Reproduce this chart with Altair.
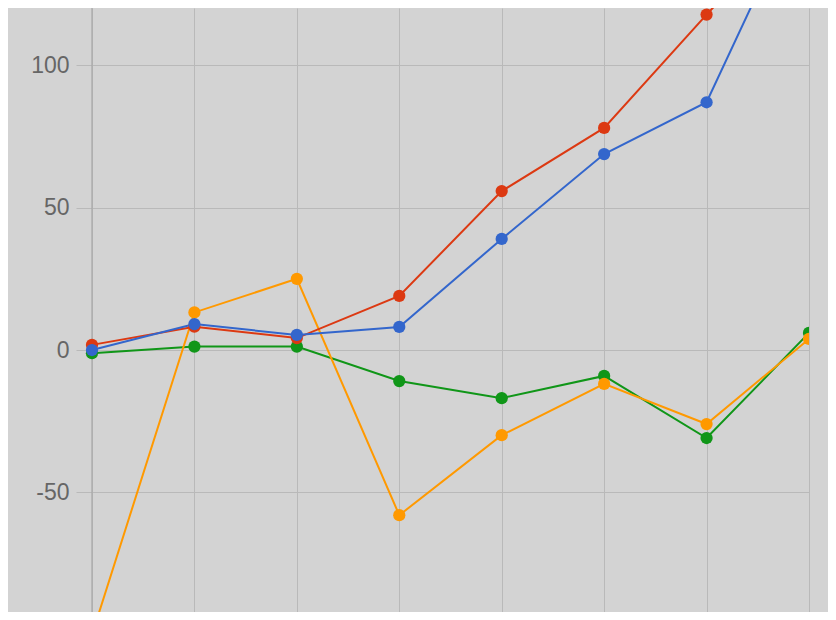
import altair as alt
import pandas as pd

# ---- data ----
x_index = [0, 1, 2, 3, 4, 5, 6, 7]
series_names = ["Series D", "Series C", "Series B", "Series A"]  # drawing order (bottom -> top)
series_colors = ["#109618", "#ff9900", "#dc3912", "#3366cc"]
green_vals = [-1.1, 1.2, 1.2, -10.9, -16.9, -9.1, -30.9, 6.0]
orange_vals = [-100.0, 13.2, 25.0, -58.0, -29.9, -11.9, -26.0, 3.9]
red_vals = [1.8, 8.2, 4.2, 19.0, 55.8, 78.0, 117.8, 156.0]
blue_vals = [0.0, 9.1, 5.3, 8.1, 39.0, 68.8, 87.0, 164.0]
y_ticks = [-50, 0, 50, 100]

rows = []
for order, (name, vals) in enumerate(zip(series_names, [green_vals, orange_vals, red_vals, blue_vals])):
    for xi, v in zip(x_index, vals):
        rows.append({"x": xi, "value": v, "series": name, "order": order})
df = pd.DataFrame(rows)

x_scale = alt.Scale(domain=[-0.156, 7], nice=False, zero=False)
y_scale = alt.Scale(domain=[-92.0, 120.1], nice=False, zero=False)
color_scale = alt.Scale(domain=series_names, range=series_colors)

x_enc = alt.X("x:Q", scale=x_scale,
              axis=alt.Axis(values=x_index, labels=False, ticks=False, domain=False,
                            grid=True, gridColor="#b9b9b9", gridWidth=1, title=None))
y_enc = alt.Y("value:Q", scale=y_scale,
              axis=alt.Axis(values=y_ticks, ticks=False, domain=False, grid=True,
                            gridColor="#b9b9b9", gridWidth=1, title=None,
                            labelExpr="toString(datum.value)",
                            labelFont="Liberation Sans", labelFontSize=23,
                            labelColor="#666666", labelPadding=7))

base = alt.Chart(df)

baseline = alt.Chart(pd.DataFrame({"x": [0]})).mark_rule(
    color="#a8a8a8", strokeWidth=1.2
).encode(x=alt.X("x:Q", scale=x_scale))

lines = base.mark_line(strokeWidth=2, clip=True).encode(
    x=x_enc,
    y=y_enc,
    color=alt.Color("series:N", scale=color_scale, legend=None),
    detail="series:N",
)

points = base.mark_circle(size=150, opacity=1, clip=True).encode(
    x=alt.X("x:Q", scale=x_scale),
    y=alt.Y("value:Q", scale=y_scale),
    color=alt.Color("series:N", scale=color_scale, legend=None),
    order=alt.Order("order:Q"),
)

chart = alt.layer(lines, baseline, points).properties(
    width=733,
    height=604,
    autosize=alt.AutoSizeParams(type="none"),
    padding={"left": 68, "top": 0, "right": 19, "bottom": 0},
    background="#d3d3d3",
).configure_view(stroke=None, fill="#d3d3d3")

chart.save("out.html", embed_options={"renderer": "svg", "actions": False})
